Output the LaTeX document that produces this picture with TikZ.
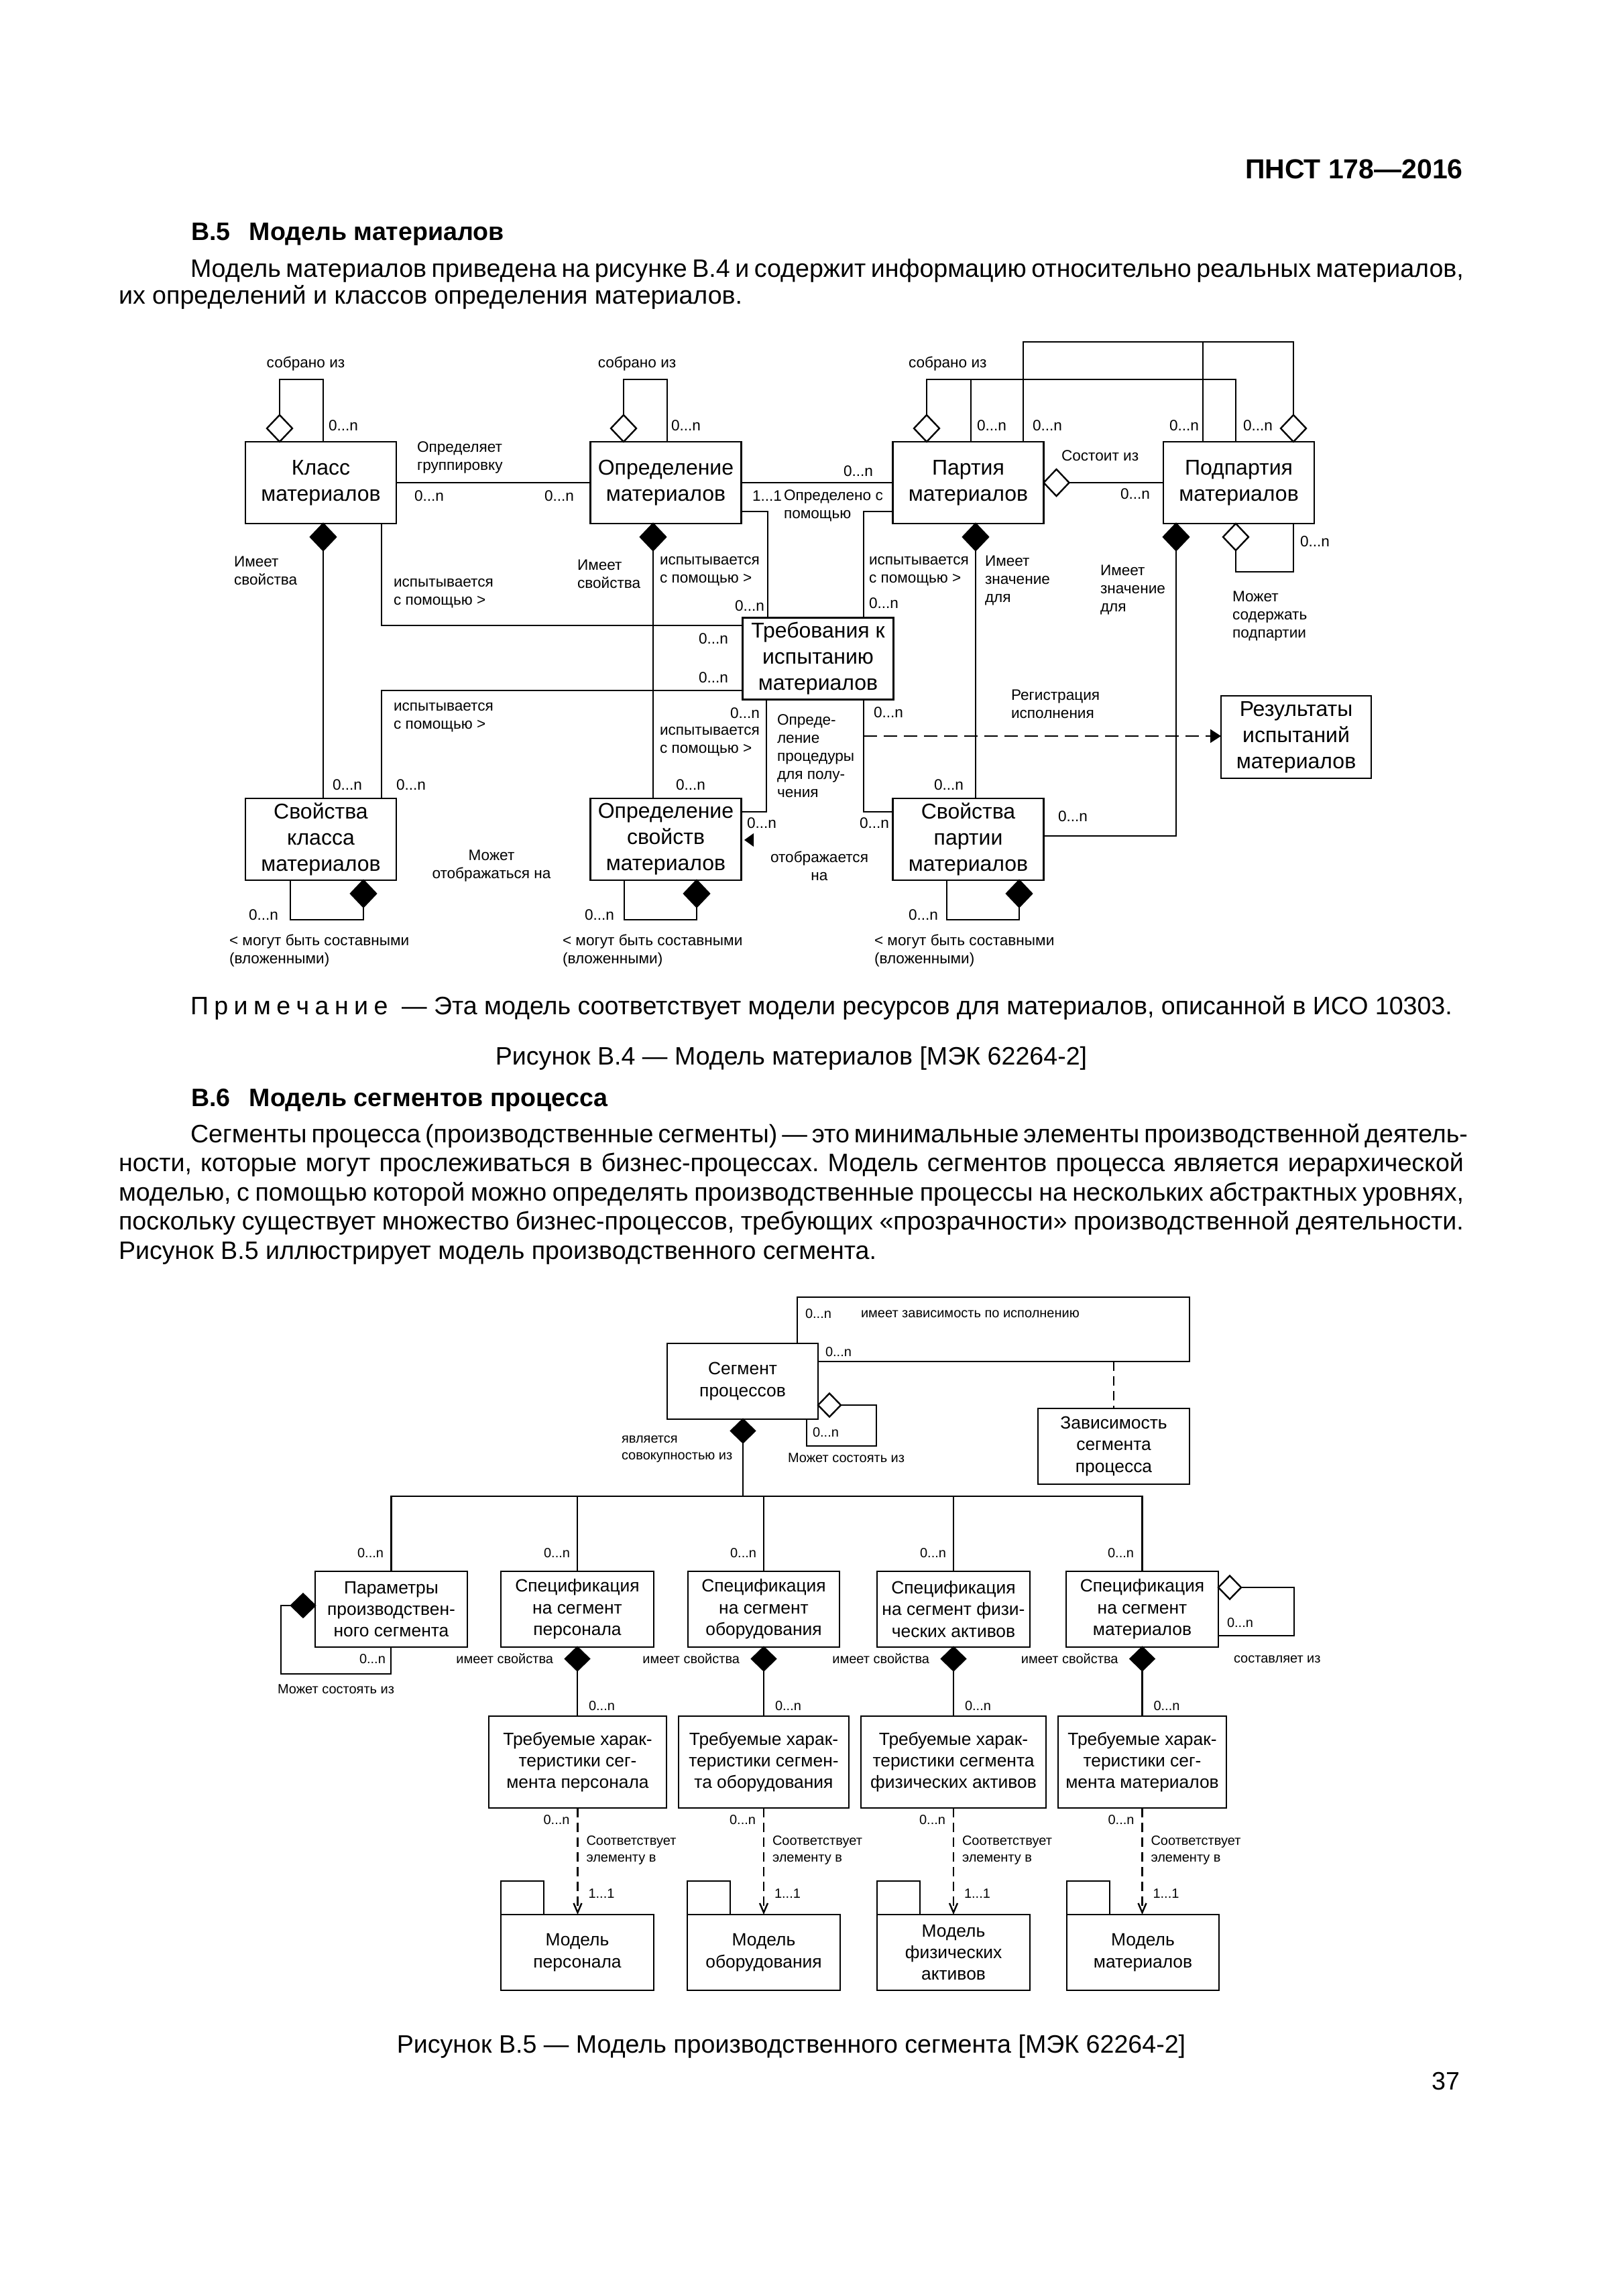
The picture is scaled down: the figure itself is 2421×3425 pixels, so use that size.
\documentclass[tikz,border=0pt]{standalone}
\usepackage{fontspec}
\setmainfont{Liberation Sans}
\usetikzlibrary{shapes.geometric,arrows.meta,calc}
\newcommand\ftbody{\fontsize{9.4}{10.2}\selectfont}
\newcommand\fthead{\fontsize{10.25}{12}\selectfont\bfseries}
\newcommand\ftbox{\fontsize{8}{9.75}\selectfont}
\newcommand\ftlab{\fontsize{5.65}{6.75}\selectfont}
\newcommand\ftlbox{\fontsize{6.6}{8.1}\selectfont}
\newcommand\ftlsm{\fontsize{5}{6.25}\selectfont}
\newcommand\lsp{\hspace{2.1pt}}
\frenchspacing
\begin{document}
\begin{tikzpicture}[x=0.25pt,y=-0.25pt, line width=0.6pt,
 box/.style={draw, inner sep=0pt, outer sep=0pt, align=center, font=\ftbox, minimum width=56.25pt, minimum height=30.5pt},
 lbox/.style={draw, inner sep=0pt, outer sep=0pt, align=center, font=\ftlbox, minimum height=28.25pt},
 pbox/.style={lbox, line width=0.7pt, minimum width=57pt},
 lab/.style={inner sep=0pt, outer sep=0pt, font=\ftlab, align=left, anchor=west},
 slab/.style={inner sep=0pt, outer sep=0pt, font=\ftlsm, align=left, anchor=west},
 fdia/.style={diamond, draw, fill=black, inner sep=0pt, outer sep=0pt, minimum width=9.5pt, minimum height=10pt},
 hdia/.style={diamond, draw, fill=white, inner sep=0pt, outer sep=0pt, minimum width=9.5pt, minimum height=10pt},
 lfdia/.style={fdia, minimum width=9pt, minimum height=8.75pt},
 lhdia/.style={hdia, minimum width=8.5pt, minimum height=8.75pt},
 body/.style={inner sep=0pt, outer sep=0pt, font=\ftbody, anchor=base west},
 dsh/.style={dash pattern=on 5pt off 2.5pt},
 ldsh/.style={dash pattern=on 3.5pt off 2pt},
]
\fill[white] (0,0) rectangle (2421,3425);
\useasboundingbox (0,0) rectangle (2421,3425);

% ---------- page text ----------
\node[anchor=base east, font=\fthead, inner sep=0pt] (hdr) at (2183,267) {ПНСТ 178—2016};
\node[body, font=\ftbody\bfseries] (h5) at (285,358) {В.5\hspace{0.75em}Модель материалов};
\node[body] (p1a) at (284,413) {\makebox[474.75pt][s]{Модель материалов приведена на рисунке В.4 и содержит информацию относительно реальных материалов,}};
\node[body] (p1b) at (177,453) {их определений и классов определения материалов.};

\node[body] (note) at (284,1513) {\makebox[470.5pt][s]{П\lsp р\lsp и\lsp м\lsp е\lsp ч\lsp а\lsp н\lsp и\lsp е \ — Эта модель соответствует модели ресурсов для материалов, описанной в ИСО 10303.}};
\node[body, anchor=base] (cap4) at (1180,1588) {Рисунок В.4 — Модель материалов [МЭК 62264-2]};
\node[body, font=\ftbody\bfseries] (h6) at (285,1650) {В.6\hspace{0.75em}Модель сегментов процесса};
\node[body] (p2a) at (284,1704) {\makebox[474.75pt][s]{Сегменты процесса (производственные сегменты) — это минимальные элементы производственной деятель-}};
\node[body] (p2b) at (177,1747.5) {\makebox[501.5pt][s]{ности, которые могут прослеживаться в бизнес-процессах. Модель сегментов процесса является иерархической}};
\node[body] (p2c) at (177,1791) {\makebox[501.5pt][s]{моделью, с помощью которой можно определять производственные процессы на нескольких абстрактных уровнях,}};
\node[body] (p2d) at (177,1834.5) {\makebox[501.5pt][s]{поскольку существует множество бизнес-процессов, требующих «прозрачности» производственной деятельности.}};
\node[body] (p2e) at (177,1878) {Рисунок В.5 иллюстрирует модель производственного сегмента.};

\node[body, anchor=base] (cap5) at (1180,3062) {Рисунок В.5 — Модель производственного сегмента [МЭК 62264-2]};
\node[body, anchor=base east] (pg) at (2177,3117) {37};

% ---------- figure B.4 ----------
\node[box] (klass) at (478.5,720) {Класс\\материалов};
\node[box] (opr) at (993,720) {Определение\\материалов};
\node[box] (part) at (1444,720) {Партия\\материалов};
\node[box] (podp) at (1847.5,720) {Подпартия\\материалов};
\node[box] (treb) at (1220,982.5) {Требования к\\испытанию\\материалов};
\node[box] (svk) at (478.5,1252) {Свойства\\класса\\материалов};
\node[box] (ops) at (993,1252) {Определение\\свойств\\материалов};
\node[box] (svp) at (1444,1252) {Свойства\\партии\\материалов};
\node[box, minimum width=56pt, minimum height=30.75pt] (rez) at (1933,1099.5) {Результаты\\испытаний\\материалов};

% klass self loop
\node[hdia, anchor=south] (kh) at (417,0 |- klass.north) {};
\draw (kh.north) |- (482,566) -- (482,0 |- klass.north);
\node[lab, anchor=center] at (456,543) {собрано из};
\node[lab] at (490,635) {0...n};
% opr self loop
\node[hdia, anchor=south] (oh) at (930,0 |- opr.north) {};
\draw (oh.north) |- (995,566) -- (995,0 |- opr.north);
\node[lab, anchor=center] at (950,543) {собрано из};
\node[lab] at (1001,635) {0...n};

% klass - opr
\draw (klass.east) -- (opr.west);
\node[lab] at (622,682) {Определяет\\группировку};
\node[lab] at (618,740) {0...n};
\node[lab] at (812,740) {0...n};

% klass -> svk composition
\node[fdia, anchor=north] (kf) at (482,0 |- klass.south) {};
\draw (kf.south) -- (kf.south |- svk.north);
\node[lab] at (349,851) {Имеет\\свойства};
\node[lab] at (496,1171) {0...n};

% klass - treb
\draw (569,0 |- klass.south) |- (treb.west |- 0,933);
\node[lab] at (587,885) {испытывается\\с помощью >};
\node[lab] at (1042,953) {0...n};
% treb - svk
\draw (treb.west |- 0,1030) -| (569,0 |- svk.north);
\node[lab] at (587,1070) {испытывается\\с помощью >};
\node[lab] at (1042,1011) {0...n};
\node[lab] at (591,1171) {0...n};

% opr -> ops composition
\node[fdia, anchor=north] (of) at (974,0 |- opr.south) {};
\draw (of.south) -- (of.south |- ops.north);
\node[lab] at (861,856) {Имеет\\свойства};
\node[lab] at (984,852) {испытывается\\с помощью >};
\node[lab] at (1096,904) {0...n};
\node[lab] at (1089,1064) {0...n};
\node[lab] at (984,1106) {испытывается\\с помощью >};
\node[lab] at (1008,1171) {0...n};

% opr - part
\draw (opr.east) -- (part.west);
\node[lab] at (1122,740) {1...1};
\node[lab] at (1169,754) {Определено с\\помощью};
\node[lab] at (1258,703) {0...n};

% opr - treb, part - treb
\draw (opr.east |- 0,763) -| (1145,0 |- treb.north);
\draw (part.west |- 0,763) -| (1288,0 |- treb.north);
\node[lab] at (1296,852) {испытывается\\с помощью >};
\node[lab] at (1296,900) {0...n};

% treb - ops
\draw (1143,0 |- treb.south) |- (ops.east |- 0,1211);
\fill (1110,1253) -- (1124,1243) -- (1124,1263) -- cycle;
\node[lab] at (1114,1228) {0...n};
\node[lab, align=center, anchor=center] at (1222,1292) {отображается\\на};
\node[lab] at (1159,1128) {Опреде-\\ление\\процедуры\\для полу-\\чения};

% treb - svp
\draw (1288,0 |- treb.south) |- (svp.west |- 0,1211);
\node[lab] at (1303,1063) {0...n};
\node[lab] at (1282,1228) {0...n};

% dashed to results
\coordinate (rs) at (1288,1098);
\draw[dsh, -{Triangle[length=4pt,width=5pt]}] (rs) -- (rez.west |- rs);
\node[lab] at (1508,1050) {Регистрация\\исполнения};

% part -> svp
\node[fdia, anchor=north] (pf) at (1455,0 |- part.south) {};
\draw (pf.south) -- (pf.south |- svp.north);
\node[lab] at (1469,866) {Имеет\\значение\\для};
\node[lab] at (1393,1171) {0...n};

% podp -> svp
\node[fdia, anchor=north] (sf) at (1754,0 |- podp.south) {};
\draw (sf.south) |- (svp.east |- 0,1247);
\node[lab] at (1641,880) {Имеет\\значение\\для};
\node[lab] at (1578,1218) {0...n};

% podp self loop (bottom)
\node[hdia, anchor=north] (sh) at (1843,0 |- podp.south) {};
\draw (sh.south) |- (1929,853) -- (1929,0 |- podp.south);
\node[lab] at (1939,808) {0...n};
\node[lab] at (1838,919) {Может\\содержать\\подпартии};

% part <> podp
\node[hdia, anchor=west] (ph) at (part.east) {};
\draw (ph.east) -- (podp.west);
\node[lab] at (1583,680) {Состоит из};
\node[lab] at (1671,737) {0...n};

% top loops of part / podp
\node[hdia, anchor=south] (pt) at (1382,0 |- part.north) {};
\coordinate (q1) at (1448,566);
\draw (pt.north) |- (1843,566) -- (1843,0 |- podp.north);
\draw (q1) -- (q1 |- part.north);
\node[lab] at (1355,543) {собрано из};
\node[lab] at (1457,635) {0...n};
\node[lab] at (1854,635) {0...n};
\node[hdia, anchor=south] (st) at (1929,0 |- podp.north) {};
\coordinate (q2) at (1794,510);
\draw (st.north) |- (1526,510) -- (1526,0 |- part.north);
\draw (q2) -- (q2 |- podp.north);
\node[lab] at (1540,635) {0...n};
\node[lab] at (1744,635) {0...n};

% bottom self loops
\node[fdia, anchor=north] (kb) at (542,0 |- svk.south) {};
\draw (433,0 |- svk.south) |- (542,1372) -- (kb.south);
\node[lab] at (371,1365) {0...n};
\node[lab] at (342,1418) {< могут быть составными\\(вложенными)};
\node[fdia, anchor=north] (ob) at (1039,0 |- ops.south) {};
\draw (931,0 |- ops.south) |- (1039,1372) -- (ob.south);
\node[lab] at (872,1365) {0...n};
\node[lab] at (839,1418) {< могут быть составными\\(вложенными)};
\node[fdia, anchor=north] (pb) at (1520,0 |- svp.south) {};
\draw (1412,0 |- svp.south) |- (1520,1372) -- (pb.south);
\node[lab] at (1355,1365) {0...n};
\node[lab] at (1304,1418) {< могут быть составными\\(вложенными)};
\node[lab, align=center, anchor=center] at (733,1292) {Может\\отображаться на};

% ---------- figure B.5 ----------
\node[lbox, minimum width=56.25pt] (seg) at (1107.5,2060.5) {Сегмент\\процессов};
\node[lbox, minimum width=56.5pt] (zav) at (1661,2157.5) {Зависимость\\сегмента\\процесса};
\node[lbox, minimum width=56.75pt] (par) at (583.5,2400.5) {Параметры\\производствен-\\ного сегмента};
\node[lbox, minimum width=57pt] (sp1) at (861,2400.5) {Спецификация\\на сегмент\\персонала};
\node[lbox, minimum width=56.5pt] (sp2) at (1139,2400.5) {Спецификация\\на сегмент\\оборудования};
\node[lbox, minimum width=57pt] (sp3) at (1422,2400.5) {Спецификация\\на сегмент физи-\\ческих активов};
\node[lbox, minimum width=56.75pt] (sp4) at (1703.5,2400.5) {Спецификация\\на сегмент\\материалов};
\node[lbox, minimum width=66.25pt, minimum height=34.25pt] (tr1) at (861.5,2628.5) {Требуемые харак-\\теристики сег-\\мента персонала};
\node[lbox, minimum width=63.5pt, minimum height=34.25pt] (tr2) at (1139,2628.5) {Требуемые харак-\\теристики сегмен-\\та оборудования};
\node[lbox, minimum width=69pt, minimum height=34.25pt] (tr3) at (1422,2628.5) {Требуемые харак-\\теристики сегмента\\физических активов};
\node[lbox, minimum width=62.75pt, minimum height=34.25pt] (tr4) at (1703.5,2628.5) {Требуемые харак-\\теристики сег-\\мента материалов};
\node[pbox] (m1) at (861,2912.5) {Модель\\персонала};
\node[pbox] (m2) at (1139,2912.5) {Модель\\оборудования};
\node[pbox] (m3) at (1422,2912.5) {Модель\\физических\\активов};
\node[pbox, minimum width=56.75pt] (m4) at (1704.5,2912.5) {Модель\\материалов};
\foreach \m in {m1,m2,m3,m4} \draw[line width=0.7pt] (\m.north west) rectangle ++(64,-50);

% dependency loop
\draw (1189,0 |- seg.north) |- (1774,1935) |- (seg.east |- 0,2031);
\node[slab] at (1201,1960) {0...n};
\node[slab] at (1284,1960) {имеет зависимость по исполнению};
\node[slab] at (1231,2017) {0...n};
\coordinate (dz) at (zav.north |- 0,2031);
\draw[ldsh] (dz) -- (zav.north);

% seg self loop
\node[lhdia, anchor=west] (segh) at (seg.east |- 0,2096) {};
\draw (segh.east) -| (1307,2157) -| (1203,0 |- seg.south);
\node[slab] at (1212,2137) {0...n};
\node[slab] at (1175,2175) {Может состоять из};

% seg composition bus
\node[lfdia, anchor=north] (segf) at (1108,0 |- seg.south) {};
\coordinate (bus) at (1108,2232);
\draw (segf.south) -- (bus);
\draw (par.north) |- (sp4.north |- bus) -- (sp4.north);
\foreach \s in {sp1,sp2,sp3} \draw (\s.north |- bus) -- (\s.north);
\node[slab] at (927,2162) {является\\совокупностью из};
\foreach \xx in {583,861,1139,1422,1702} \node[slab, anchor=east] at (\xx-11,2317) {0...n};

% par self loop
\node[lfdia, anchor=east] (parf) at (par.west |- 0,2395) {};
\draw (parf.west) -| (419,2497) -| (583,0 |- par.south);
\node[slab] at (536,2475) {0...n};
\node[slab] at (414,2520) {Может состоять из};

% spec -> required
\foreach \i in {1,2,3,4} {
  \node[lfdia, anchor=north] (sd\i) at (sp\i.south) {};
  \draw (sd\i.south) -- (sd\i.south |- tr\i.north);
  \node[slab, anchor=east] at ($(sd\i.west)+(-18,0)$) {имеет свойства};
  \node[slab] at ($(sd\i.south |- 0,2545)+(17,0)$) {0...n};
  \draw[ldsh, -{Straight Barb[length=3.5pt,width=3pt]}] (tr\i.south) -- (tr\i.south |- m\i.north);
  \node[slab, anchor=east] at ($(tr\i.south |- 0,2715)+(-12,0)$) {0...n};
  \node[slab] at ($(tr\i.south |- 0,2760)+(13,0)$) {Соответствует\\элементу в};
  \node[slab] at ($(tr\i.south |- 0,2825)+(16,0)$) {1...1};
}

% sp4 self loop
\node[lhdia, anchor=west] (sph) at (sp4.east |- 0,2368) {};
\draw (sph.east) -| (1930,2440) -- (sp4.east |- 0,2440);
\node[slab] at (1830,2421) {0...n};
\node[slab] at (1840,2475) {составляет из};
\end{tikzpicture}
\end{document}
